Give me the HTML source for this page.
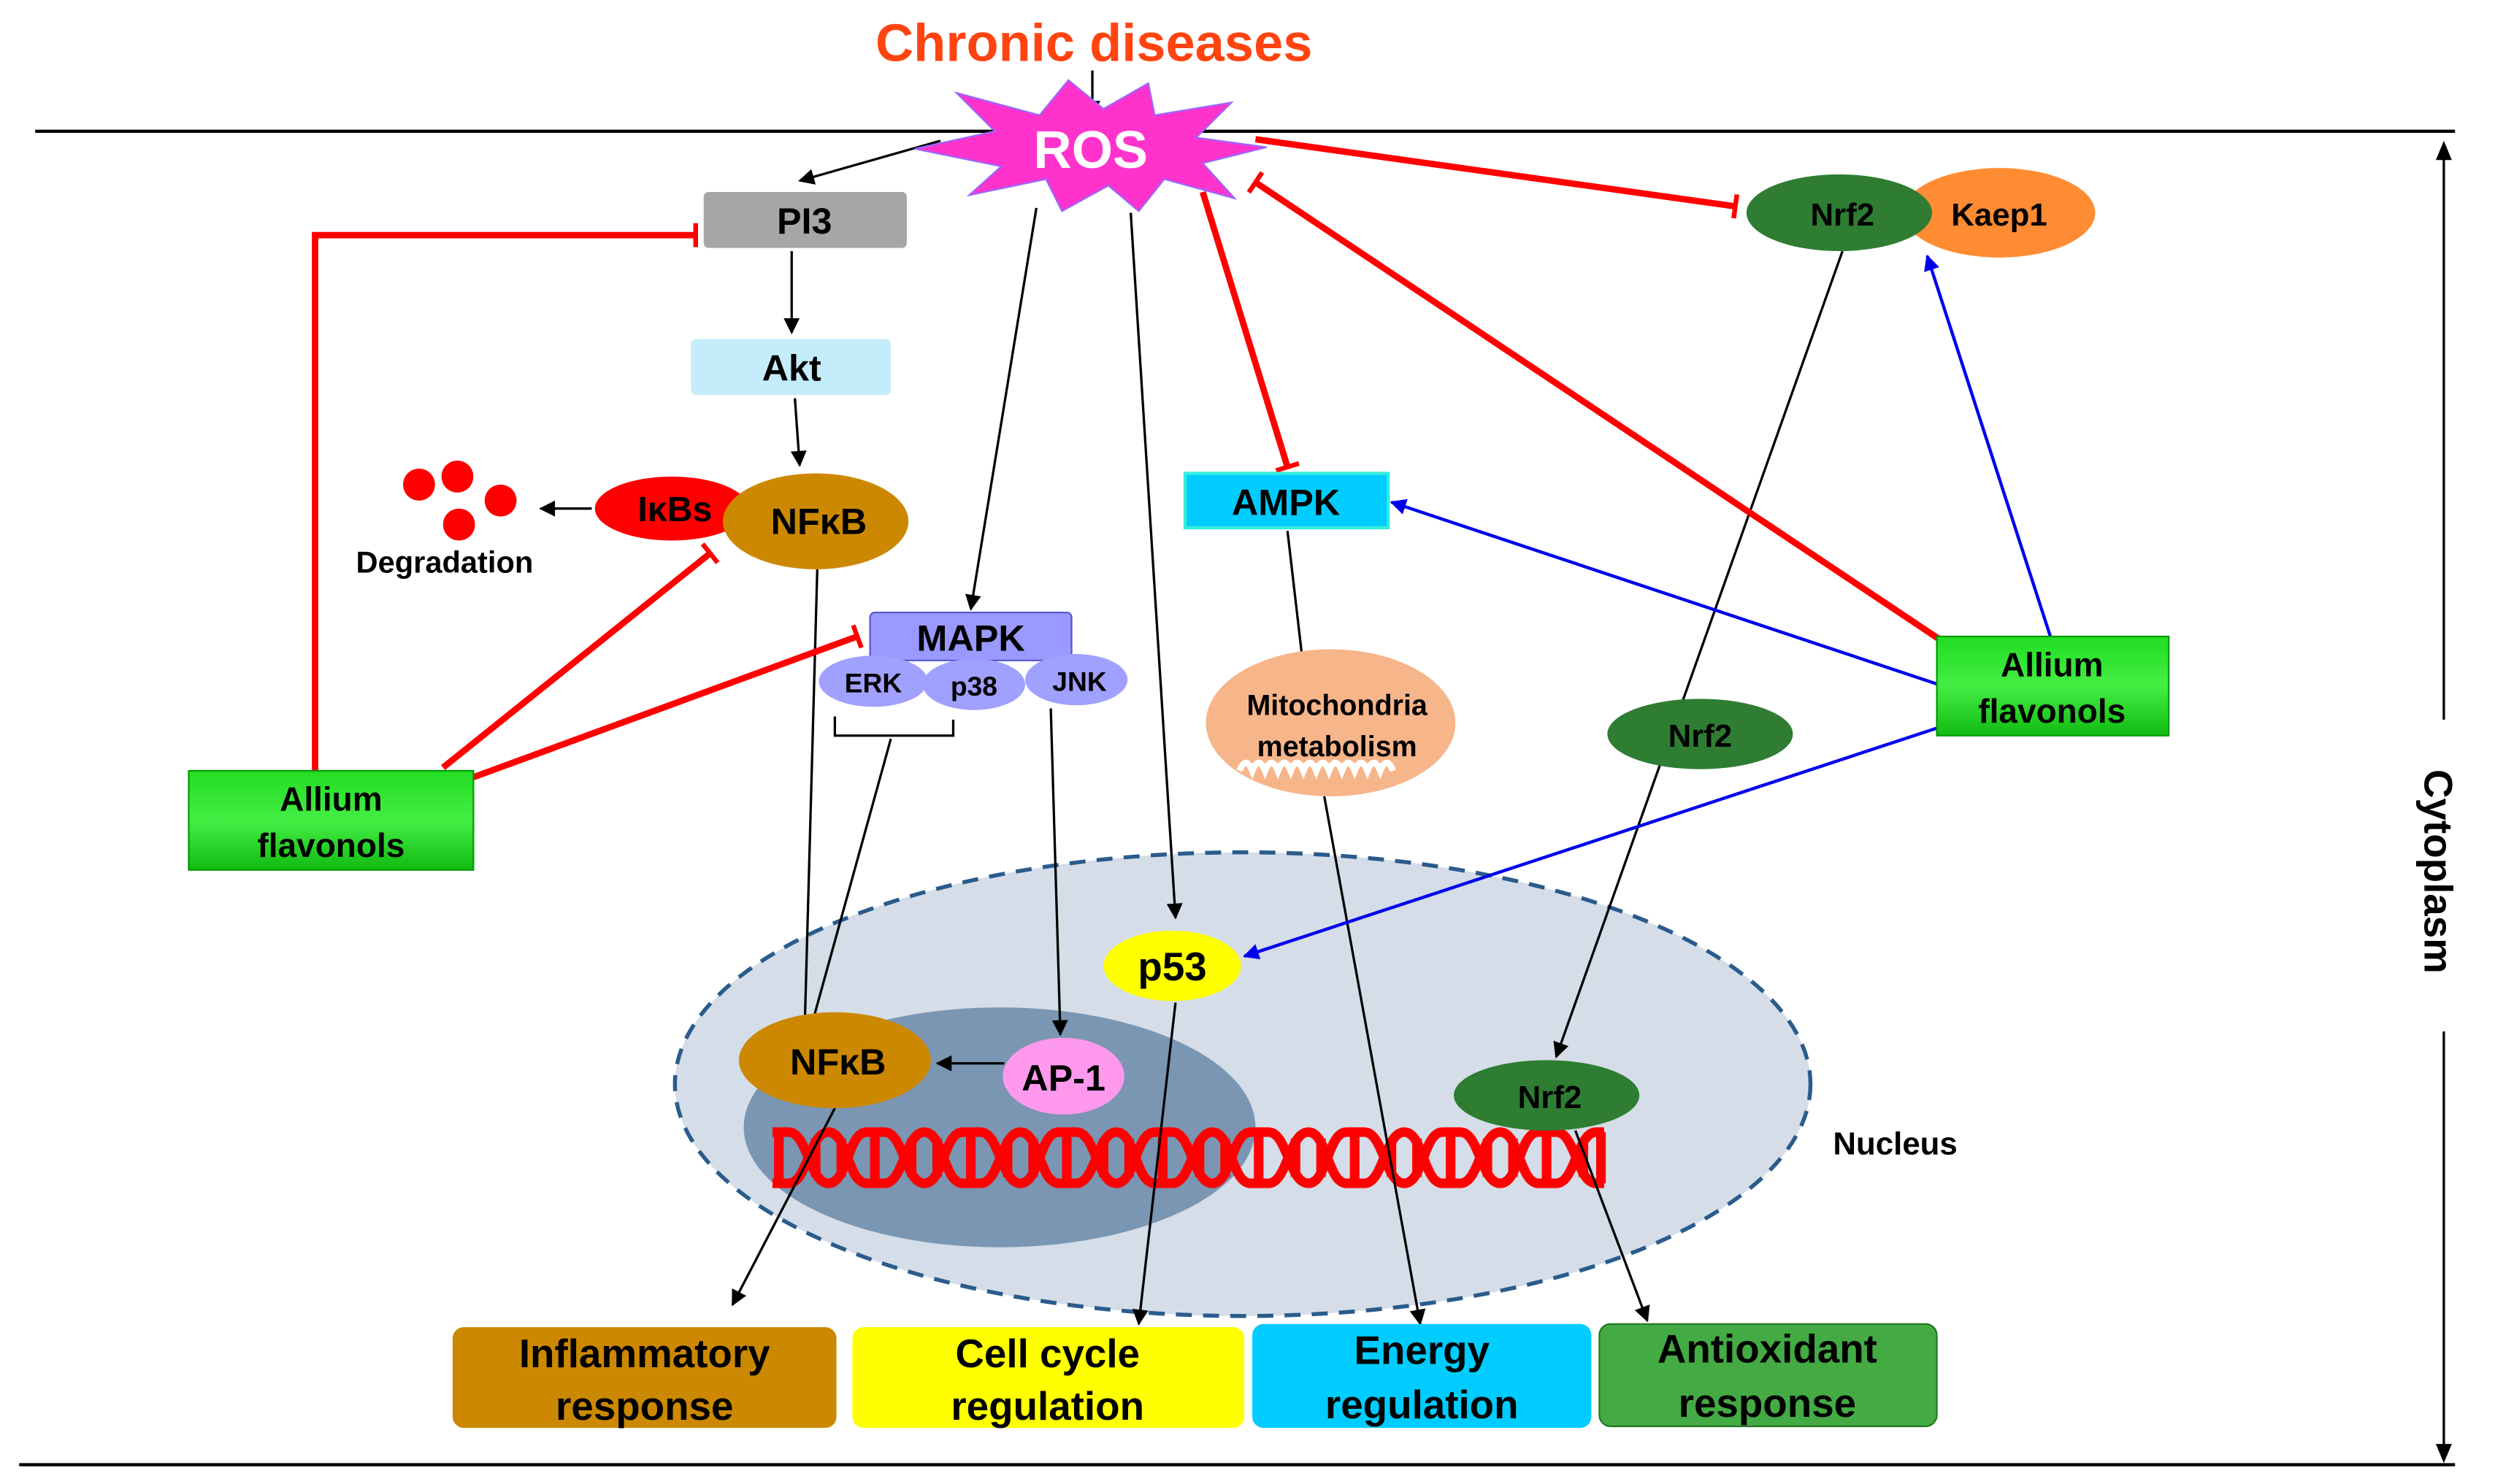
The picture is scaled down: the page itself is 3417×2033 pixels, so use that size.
<!DOCTYPE html>
<html><head><meta charset="utf-8"><style>html,body{margin:0;padding:0;background:#fff}svg{display:block}text{font-family:"Liberation Sans",Arial,sans-serif;font-weight:bold}</style></head><body>
<svg width="3417" height="2033" viewBox="0 0 1560 928" xmlns="http://www.w3.org/2000/svg">
<defs>
<marker id="ab" viewBox="0 0 10 10" refX="9" refY="5" markerWidth="12" markerHeight="10" orient="auto" markerUnits="userSpaceOnUse"><path d="M0,0L10,5L0,10z" fill="#000"/></marker>
<marker id="au" viewBox="0 0 10 10" refX="9" refY="5" markerWidth="12" markerHeight="10" orient="auto" markerUnits="userSpaceOnUse"><path d="M0,0L10,5L0,10z" fill="#0000ee"/></marker>
<marker id="tb" viewBox="0 0 4 20" refX="2" refY="10" markerWidth="3" markerHeight="20" orient="auto" markerUnits="userSpaceOnUse"><rect x="0" y="0" width="4" height="20" fill="#ff0000"/></marker>
<linearGradient id="gg" x1="0" y1="0" x2="0" y2="1"><stop offset="0" stop-color="#22dd22"/><stop offset="0.5" stop-color="#44ee44"/><stop offset="1" stop-color="#11bb11"/></linearGradient>
</defs>
<line x1="22" y1="82" x2="1535" y2="82" stroke="#000" stroke-width="2"/>
<line x1="12" y1="916" x2="1535" y2="916" stroke="#000" stroke-width="2"/>
<line x1="1528" y1="90" x2="1528" y2="450" stroke="#000" stroke-width="1.5"/>
<path d="M1528,88 l-5,12 h10z"/>
<line x1="1528" y1="645" x2="1528" y2="912" stroke="#000" stroke-width="1.5"/>
<path d="M1528,915 l-5,-12 h10z"/>
<text transform="translate(1516,545) rotate(90)" font-size="25" text-anchor="middle">Cytoplasm</text>
<text x="684" y="38" font-size="33" fill="#ff4411" text-anchor="middle">Chronic diseases</text>
<line x1="683" y1="44" x2="683" y2="72" stroke="#000" stroke-width="1.5" marker-end="url(#ab)"/>
<!-- nucleus -->
<ellipse cx="777" cy="678" rx="355" ry="145" fill="#d5dde8" stroke="#2a5b8c" stroke-width="2.5" stroke-dasharray="10,7"/>
<ellipse cx="625" cy="705" rx="160" ry="75" fill="#7a96b2"/>
<text x="1185" y="722" font-size="20" text-anchor="middle">Nucleus</text>
<!-- DNA -->
<g stroke="#ff0000" stroke-width="6" fill="none">
<path d="M483,708 L493,708 C505,708 506,740 518,740 C530,740 530,708 542,708 L553,708 C565,708 566,740 578,740 C590,740 590,708 602,708 L613,708 C625,708 626,740 638,740 C650,740 650,708 662,708 L673,708 C685,708 686,740 698,740 C710,740 710,708 722,708 L733,708 C745,708 746,740 758,740 C770,740 770,708 782,708 L793,708 C805,708 806,740 818,740 C830,740 830,708 842,708 L853,708 C865,708 866,740 878,740 C890,740 890,708 902,708 L913,708 C925,708 926,740 938,740 C950,740 950,708 962,708 L973,708 C985,708 986,740 998,740 L1003,740"/>
<path d="M483,740 L493,740 C505,740 506,708 518,708 C530,708 530,740 542,740 L553,740 C565,740 566,708 578,708 C590,708 590,740 602,740 L613,740 C625,740 626,708 638,708 C650,708 650,740 662,740 L673,740 C685,740 686,708 698,708 C710,708 710,740 722,740 L733,740 C745,740 746,708 758,708 C770,708 770,740 782,740 L793,740 C805,740 806,708 818,708 C830,708 830,740 842,740 L853,740 C865,740 866,708 878,708 C890,708 890,740 902,740 L913,740 C925,740 926,708 938,708 C950,708 950,740 962,740 L973,740 C985,740 986,708 998,708 L1003,708"/>
<path d="M487,710V738M510,712V736M526,712V736M547,710V738M570,712V736M586,712V736M607,710V738M630,712V736M646,712V736M667,710V738M690,712V736M706,712V736M727,710V738M750,712V736M766,712V736M787,710V738M810,712V736M826,712V736M847,710V738M870,712V736M886,712V736M907,710V738M930,712V736M946,712V736M967,710V738M990,712V736M1001,708V740"/>
</g>
<!-- connectors black -->
<g stroke="#000" stroke-width="1.5" fill="none" marker-end="url(#ab)">
<line x1="588" y1="88" x2="500" y2="113"/>
<line x1="648" y1="130" x2="607" y2="381"/>
<line x1="707" y1="133" x2="735" y2="574"/>
<line x1="495" y1="157" x2="495" y2="208"/>
<line x1="497" y1="249" x2="500" y2="291"/>
<line x1="370" y1="318" x2="338" y2="318"/>
<line x1="805" y1="332" x2="815" y2="418"/>
<line x1="511" y1="356" x2="503" y2="648"/>
<line x1="557" y1="462" x2="505" y2="650"/>
<line x1="657" y1="443" x2="663" y2="647"/>
<line x1="628" y1="665" x2="586" y2="665"/>
<line x1="735" y1="627" x2="712" y2="828"/>
<line x1="828" y1="498" x2="888" y2="828"/>
<line x1="1152" y1="157" x2="973" y2="661"/>
<line x1="522" y1="693" x2="458" y2="816"/>
<line x1="985" y1="707" x2="1030" y2="826"/>
</g>
<path d="M522,448V460H596V450" stroke="#000" stroke-width="1.5" fill="none"/>
<!-- red inhibitions -->
<g stroke="#ff0000" stroke-width="4" fill="none" marker-end="url(#tb)">
<line x1="752" y1="120" x2="805" y2="292"/>
<line x1="785" y1="87" x2="1085" y2="129"/>
<line x1="1213" y1="400" x2="785" y2="114"/>
<polyline points="197,482 197,147 435,147"/>
<line x1="277" y1="480" x2="444" y2="346"/>
<line x1="296" y1="486" x2="536" y2="398"/>
</g>
<!-- blue -->
<g stroke="#0000ee" stroke-width="2" fill="none" marker-end="url(#au)">
<line x1="1212" y1="428" x2="870" y2="314"/>
<line x1="1282" y1="398" x2="1205" y2="160"/>
<line x1="1212" y1="455" x2="778" y2="598"/>
</g>
<!-- ROS star -->
<polygon points="572,93 622,82 598,58 650,72 668,50 690,68 718,52 722,72 770,64 748,86 792,92 752,102 772,124 728,112 712,132 693,116 664,132 654,112 606,122 626,104" fill="#ff33cc" stroke="#9966ff" stroke-width="1"/>
<text x="682" y="105" font-size="33" fill="#fff" text-anchor="middle">ROS</text>
<!-- nodes -->
<rect x="440" y="120" width="127" height="35" rx="3" fill="#a6a6a6"/>
<text x="503" y="146" font-size="23" text-anchor="middle">PI3</text>
<rect x="432" y="212" width="125" height="35" rx="3" fill="#c5ecfb"/>
<text x="495" y="238" font-size="23" text-anchor="middle">Akt</text>
<ellipse cx="420" cy="318" rx="48" ry="20" fill="#ff0000"/>
<text x="422" y="326" font-size="22" text-anchor="middle">IκBs</text>
<ellipse cx="510" cy="326" rx="58" ry="30" fill="#cc8800"/>
<text x="512" y="334" font-size="23" text-anchor="middle">NFκB</text>
<g fill="#ff0000"><circle cx="262" cy="303" r="10"/><circle cx="286" cy="298" r="10"/><circle cx="313" cy="313" r="10"/><circle cx="287" cy="328" r="10"/></g>
<text x="278" y="358" font-size="19" text-anchor="middle">Degradation</text>
<rect x="544" y="383" width="126" height="30" rx="3" fill="#9999ff" stroke="#5555cc"/>
<text x="607" y="407" font-size="23" text-anchor="middle">MAPK</text>
<ellipse cx="546" cy="426" rx="34" ry="16" fill="#a0a0ff"/>
<ellipse cx="673" cy="425" rx="32" ry="16" fill="#a0a0ff"/>
<ellipse cx="609" cy="428" rx="32" ry="16" fill="#a0a0ff"/>
<text x="546" y="433" font-size="17" text-anchor="middle">ERK</text>
<text x="609" y="435" font-size="17" text-anchor="middle">p38</text>
<text x="675" y="432" font-size="17" text-anchor="middle">JNK</text>
<rect x="741" y="296" width="127" height="34" fill="#00ccff" stroke="#33eedd" stroke-width="2"/>
<text x="804" y="322" font-size="23" text-anchor="middle">AMPK</text>
<ellipse cx="832" cy="452" rx="78" ry="46" fill="#f7b58a"/>
<path d="M775,482 q4,-10 8,0 q4,-10 8,0 q4,-10 8,0 q4,-10 8,0 q4,-10 8,0 q4,-10 8,0 q4,-10 8,0 q4,-10 8,0 q4,-10 8,0 q4,-10 8,0 q4,-10 8,0 q4,-10 8,0" stroke="#fff" stroke-width="4" fill="none"/>
<text x="836" y="447" font-size="18" text-anchor="middle">Mitochondria</text>
<text x="836" y="473" font-size="18" text-anchor="middle">metabolism</text>
<ellipse cx="1250" cy="133" rx="60" ry="28" fill="#ff8c33"/>
<text x="1250" y="141" font-size="20" text-anchor="middle">Kaep1</text>
<ellipse cx="1150" cy="133" rx="58" ry="24" fill="#2e7d32"/>
<text x="1152" y="141" font-size="20" text-anchor="middle">Nrf2</text>
<ellipse cx="1063" cy="459" rx="58" ry="22" fill="#2e7d32"/>
<text x="1063" y="467" font-size="20" text-anchor="middle">Nrf2</text>
<ellipse cx="967" cy="685" rx="58" ry="22" fill="#2e7d32"/>
<text x="969" y="693" font-size="20" text-anchor="middle">Nrf2</text>
<ellipse cx="733" cy="604" rx="43" ry="22" fill="#ffff00"/>
<text x="733" y="613" font-size="25" text-anchor="middle">p53</text>
<ellipse cx="522" cy="663" rx="60" ry="30" fill="#cc8800"/>
<text x="524" y="672" font-size="23" text-anchor="middle">NFκB</text>
<ellipse cx="665" cy="673" rx="38" ry="24" fill="#ff99ee"/>
<text x="665" y="682" font-size="23" text-anchor="middle">AP-1</text>
<rect x="1211" y="398" width="145" height="62" fill="url(#gg)" stroke="#009900"/>
<text x="1283" y="423" font-size="21" text-anchor="middle">Allium</text>
<text x="1283" y="452" font-size="21" text-anchor="middle">flavonols</text>
<rect x="118" y="482" width="178" height="62" fill="url(#gg)" stroke="#009900"/>
<text x="207" y="507" font-size="21" text-anchor="middle">Allium</text>
<text x="207" y="536" font-size="21" text-anchor="middle">flavonols</text>
<!-- bottom boxes -->
<rect x="283" y="830" width="240" height="63" rx="7" fill="#cc8800"/>
<text x="403" y="855" font-size="25" text-anchor="middle">Inflammatory</text>
<text x="403" y="888" font-size="25" text-anchor="middle">response</text>
<rect x="533" y="830" width="245" height="63" rx="7" fill="#ffff00"/>
<text x="655" y="855" font-size="25" text-anchor="middle">Cell cycle</text>
<text x="655" y="888" font-size="25" text-anchor="middle">regulation</text>
<rect x="783" y="828" width="212" height="65" rx="7" fill="#00ccff"/>
<text x="889" y="853" font-size="25" text-anchor="middle">Energy</text>
<text x="889" y="887" font-size="25" text-anchor="middle">regulation</text>
<rect x="1000" y="828" width="211" height="64" rx="7" fill="#44aa44" stroke="#227722"/>
<text x="1105" y="852" font-size="25" text-anchor="middle">Antioxidant</text>
<text x="1105" y="886" font-size="25" text-anchor="middle">response</text>
</svg>
</body></html>
